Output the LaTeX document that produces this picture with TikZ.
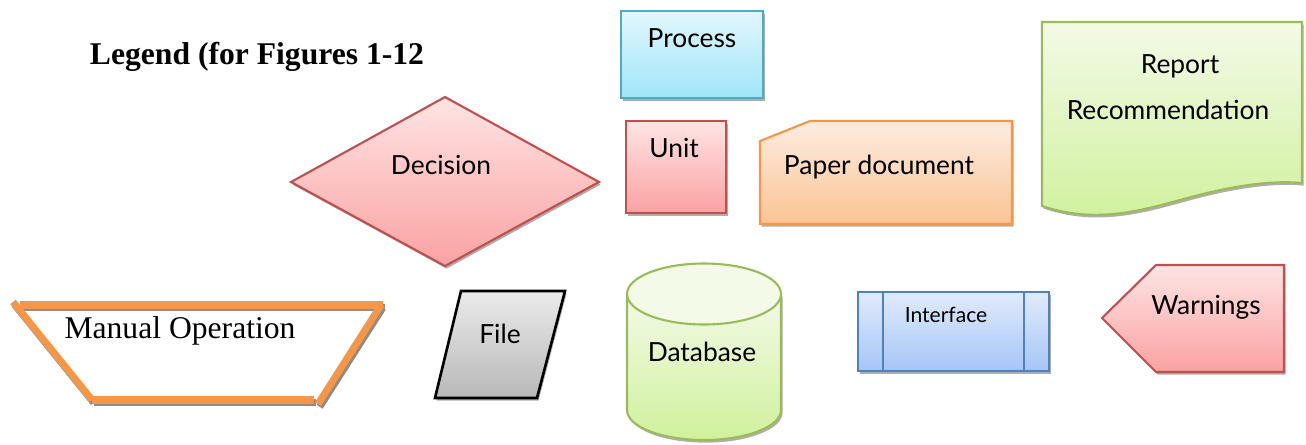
\documentclass[tikz,border=0pt]{standalone}
\usepackage{fontspec}
\setmainfont{Liberation Serif}
\newfontfamily\gillfont{Lato}
\usetikzlibrary{shadows}

% ── Office-style palette ──
\definecolor{aqualine}{RGB}{75,172,198}
\definecolor{aquatop}{RGB}{226,247,253}
\definecolor{aquabot}{RGB}{160,229,248}
\definecolor{redline}{RGB}{192,80,77}
\definecolor{redtop}{RGB}{255,228,228}
\definecolor{redbot}{RGB}{250,162,162}
\definecolor{orangeline}{RGB}{247,150,70}
\definecolor{orangetop}{RGB}{253,236,224}
\definecolor{orangebot}{RGB}{250,196,148}
\definecolor{greenline}{RGB}{155,187,89}
\definecolor{greentop}{RGB}{243,250,232}
\definecolor{greenbot}{RGB}{208,241,156}
\definecolor{blueline}{RGB}{79,129,189}
\definecolor{bluetop}{RGB}{224,235,252}
\definecolor{bluebot}{RGB}{166,197,246}

\begin{document}
\begin{tikzpicture}[
    x=0.02cm, y=-0.02cm,
    % ── Shape Styles ──
    shadowed/.style={drop shadow={shadow xshift=0.9pt, shadow yshift=-1.5pt,
        opacity=0.45, fill=black!70}},
    processbox/.style={draw=aqualine, line width=1.2pt,
        top color=aquatop, bottom color=aquabot, shadowed},
    redbox/.style={draw=redline, line width=1.2pt,
        top color=redtop, bottom color=redbot, shadowed},
    paperbox/.style={draw=orangeline, line width=1.2pt,
        top color=orangetop, bottom color=orangebot, shadowed},
    greenbox/.style={draw=greenline, line width=1.2pt,
        top color=greentop, bottom color=greenbot, shadowed},
    interfacebox/.style={draw=blueline, line width=1.2pt,
        top color=bluetop, bottom color=bluebot, shadowed},
    filebox/.style={draw=black, line width=1.5pt,
        top color=black!8, bottom color=black!28, shadowed},
    manualbar/.style={draw=orangeline, line width=4pt},
    manualshadow/.style={draw=black!45, line width=4pt, shift={(1pt,-1.6pt)}},
    % ── Text Styles ──
    lbl/.style={inner sep=0pt, font=\gillfont\fontsize{15}{18}\selectfont},
    smalllbl/.style={inner sep=0pt, font=\gillfont\fontsize{12}{14}\selectfont},
    serif/.style={inner sep=0pt, font=\fontsize{18}{22}\selectfont},
]

\useasboundingbox (0,0) rectangle (1306,444);

% ════════════════════════════════════════════════════════
%  TOP ROW
% ════════════════════════════════════════════════════════

\node (title) [serif, font=\bfseries\fontsize{18}{22}\selectfont] at (257,57)
    {Legend (for Figures 1-12};

% Decision
\draw [redbox] (291,182) -- (445,97) -- (599,182) -- (445,266) -- cycle;
\node (decision) [lbl] at (441,165) {Decision};

% Process
\draw [processbox] (621,11) rectangle (763,98);
\node (process) [lbl] at (692,38) {Process};

% Unit
\draw [redbox] (626,121) rectangle (726,213);
\node (unit) [lbl] at (674,148) {Unit};

% Paper document
\draw [paperbox] (760,141) -- (810,121) -- (1012,121) -- (1012,224)
    -- (760,224) -- cycle;
\node (paper) [lbl] at (879,167) {Paper document};

% Report / Recommendation
\draw [greenbox] (1042,22) -- (1302,22) -- (1302,183)
    .. controls (1270,180) and (1230,186) .. (1180,200)
    .. controls (1130,214) and (1090,222) .. (1042,206) -- cycle;
\node (report) [lbl] at (1180,66) {Report};
\node (recommend) [lbl] at (1168,110) {Recommendation};

% ════════════════════════════════════════════════════════
%  BOTTOM ROW
% ════════════════════════════════════════════════════════

% Manual operation (open strokes, shadow first)
\foreach \ax/\ay/\bx/\by in {20/305/383/305, 13/302/92/400,
                             92/400/314/400, 381/305/318/404}
    \draw [manualshadow] (\ax,\ay) -- (\bx,\by);
\foreach \ax/\ay/\bx/\by in {20/305/383/305, 13/302/92/400,
                             92/400/314/400, 381/305/318/404}
    \draw [manualbar] (\ax,\ay) -- (\bx,\by);
\node (manual) [serif] at (180,331) {Manual Operation};

% File
\draw [filebox] (461,291) -- (565,291) -- (537,398) -- (435,398) -- cycle;
\node (file) [lbl] at (500,334) {File};

% Database
\draw [greenbox] (627,294) -- (627,410)
    .. controls (627,426.6) and (661.5,440) .. (704,440)
    .. controls (746.5,440) and (781,426.6) .. (781,410) -- (781,294) -- cycle;
\draw [draw=greenline, line width=1.2pt, fill=greentop]
    (704,294) ellipse [x radius=77, y radius=30.5];
\node (database) [lbl] at (702,352) {Database};

% Interface
\draw [interfacebox] (858,292) rectangle (1049,371);
\draw [draw=blueline, line width=1.2pt] (883,292) -- (883,371);
\draw [draw=blueline, line width=1.2pt] (1024,292) -- (1024,371);
\node (interface) [smalllbl] at (946,315) {Interface};

% Warnings
\draw [redbox] (1102,318) -- (1156,265) -- (1284,265) -- (1284,372)
    -- (1156,372) -- cycle;
\node (warnings) [lbl] at (1206,307) {Warnings};

\end{tikzpicture}
\end{document}
